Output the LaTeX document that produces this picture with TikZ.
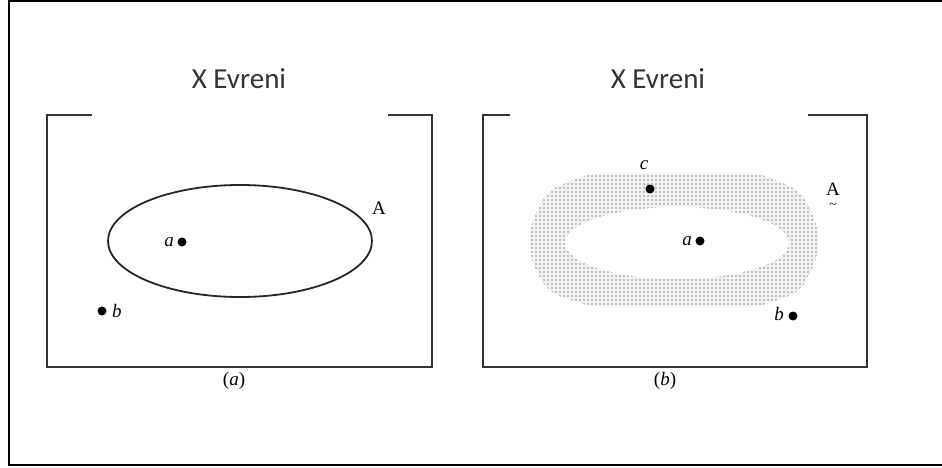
\documentclass[tikz,border=0pt]{standalone}
\usepackage{fontspec}
\newfontfamily\titlefont{Carlito}
\setmainfont{Liberation Serif}
\usetikzlibrary{patterns}
\pgfdeclarepatternformonly{sparsedots}{\pgfqpoint{-1pt}{-1pt}}{\pgfqpoint{1pt}{1pt}}{\pgfqpoint{4pt}{4pt}}{%
  \pgfpathcircle{\pgfqpoint{0pt}{0pt}}{0.8pt}\pgfusepath{fill}}
\begin{document}
\begin{tikzpicture}[x=1pt,y=-1pt,
  boxline/.style={line width=1.8pt,draw=black!80},
  title/.style={font=\titlefont\fontsize{29}{32}\selectfont,text=black!80,inner sep=0pt},
  lbl/.style={font=\fontsize{19}{22}\selectfont,inner sep=0pt},
  pt/.style={circle,fill=black,inner sep=0pt,minimum size=9pt},
  ring/.style={even odd rule,rounded corners=12pt}]
\useasboundingbox (0,0) rectangle (942,468);
% outer frame
\draw[line width=2pt] (942,1) -- (8.5,1) -- (8.5,464.5) -- (942,464.5);
% ---- panel (a)
\node[title] (ta) at (239,79) {X Evreni};
\draw[boxline] (92,115) -- (47,115) -- (47,367) -- (432,367) -- (432,115) -- (388,115);
\draw[line width=1.8pt,draw=black!85] (240,241) ellipse [x radius=132,y radius=56];
\node[lbl] (Aa) at (379,208) {A};
\node[pt] (pa) at (182,242) {};
\node[lbl,anchor=east] (la) at (174,242) {\itshape a};
\node[pt] (pb) at (102,311) {};
\node[lbl,anchor=west] (lb) at (112,311) {\itshape b};
\node[lbl] (capa) at (234,381) {(\textit{a})};
% ---- panel (b)
\node[title] (tb) at (658,79) {X Evreni};
\draw[boxline] (510,115) -- (483,115) -- (483,367) -- (867,367) -- (867,115) -- (808,115);
\fill[gray!10,ring]
  (592,173) -- (758,173) -- (800,190) -- (818,225) -- (818,258) -- (800,292) -- (758,307) -- (592,307) -- (548,292) -- (530,258) -- (530,225) -- (548,190) -- cycle
  (677,243) ellipse [x radius=112,y radius=36];
\fill[pattern=sparsedots,pattern color=black!45,ring]
  (592,173) -- (758,173) -- (800,190) -- (818,225) -- (818,258) -- (800,292) -- (758,307) -- (592,307) -- (548,292) -- (530,258) -- (530,225) -- (548,190) -- cycle
  (677,243) ellipse [x radius=112,y radius=36];
\node[pt] (pc) at (650,189) {};
\node[lbl] (lc) at (644,165) {\itshape c};
\node[pt] (pa2) at (700,241) {};
\node[lbl,anchor=east] (la2) at (692,241) {\itshape a};
\node[pt] (pb2) at (793,316) {};
\node[lbl,anchor=east] (lb2) at (784,314) {\itshape b};
\node[lbl] (Ab) at (833,189) {A};
\node[font=\fontsize{13}{13}\selectfont,inner sep=0pt] (tilde) at (833,206) {\textasciitilde};
\node[lbl] (capb) at (665,381) {(\textit{b})};
\end{tikzpicture}
\end{document}
